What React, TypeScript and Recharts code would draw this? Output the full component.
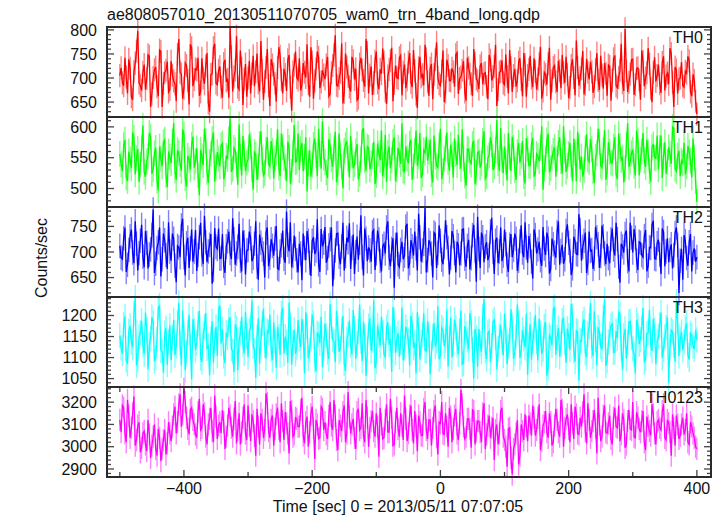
import React from "react";
import { LineChart, Line, XAxis, YAxis, ErrorBar } from "recharts";

// time grid (sec, 0 = 2013/05/11 07:07:05); "a" arrays at -500, -496, ...; "b" arrays at -498, -494, ...
const T_START = -500;
const T_STEP = 2;

const th0a = [
  705, 690, 742, 668, 720, 655, 731, 798, 684, 712,
  676, 748, 640, 701, 723, 662, 755, 689, 716, 671,
  735, 694, 652, 781, 708, 679, 726, 645, 763, 697,
  717, 663, 741, 688, 752, 630, 709, 771, 686, 724,
  659, 738, 697, 805, 672, 716, 681, 757, 644, 729,
  700, 668, 746, 713, 690, 777, 655, 722, 684, 739,
  708, 651, 764, 696, 719, 673, 748, 632, 727, 701,
  741, 686, 712, 770, 661, 733, 694, 755, 679, 716,
  698, 744, 667, 726, 789, 683, 712, 647, 751, 704,
  672, 736, 719, 658, 742, 695, 781, 668, 724, 690,
  755, 677, 709, 733, 646, 718, 763, 689, 701, 742,
  664, 728, 696, 752, 681, 715, 638, 744, 707, 769,
  692, 720, 656, 738, 701, 684, 757, 671, 726, 694,
  713, 749, 667, 702, 735, 653, 721, 688, 760, 698,
  677, 731, 709, 682, 748, 695, 724, 642, 712, 737,
  686, 703, 758, 671, 719, 694, 741, 662, 728, 705,
  746, 681, 714, 698, 765, 673, 707, 730, 655, 722,
  692, 736, 679, 711, 744, 658, 726, 701, 778, 684,
  719, 666, 740, 697, 713, 682, 752, 675, 706, 731,
  663, 724, 695, 747, 680, 716, 690, 802, 671, 708,
  739, 686, 721, 655, 734, 700, 762, 678, 712, 693,
  728, 669, 745, 704, 687, 751, 640, 717, 698, 733,
  681, 710, 736, 662, 695, 625,
];
const th0b = [
  721, 684, 702, 739, 661, 713, 756, 690, 674, 728,
  699, 745, 667, 717, 682, 758, 640, 711, 734, 676,
  706, 688, 749, 712, 657, 731, 695, 770, 683, 719,
  742, 671, 700, 725, 648, 707, 763, 689, 716, 681,
  730, 694, 659, 744, 702, 787, 676, 720, 698, 661,
  736, 709, 683, 751, 672, 715, 693, 760, 642, 727,
  689, 722, 745, 668, 707, 738, 681, 713, 755, 696,
  674, 731, 701, 688, 764, 657, 719, 743, 692, 706,
  727, 662, 711, 748, 685, 699, 772, 670, 723, 681,
  744, 697, 654, 729, 716, 682, 753, 706, 665, 735,
  690, 718, 761, 673, 704, 736, 652, 726, 699, 747,
  712, 679, 733, 691, 758, 666, 721, 702, 685, 740,
  663, 729, 707, 774, 688, 714, 650, 738, 695, 720,
  682, 753, 699, 716, 671, 742, 708, 663, 731, 694,
  725, 687, 711, 656, 737, 703, 769, 676, 714, 690,
  749, 668, 721, 705, 682, 733, 697, 752, 661, 718,
  700, 741, 676, 729, 657, 712, 686, 763, 694, 726,
  671, 715, 748, 690, 707, 680, 739, 664, 722, 701,
  756, 687, 712, 733, 669, 718, 695, 746, 678, 710,
  727, 653, 740, 684, 701, 771, 673, 715, 691, 738,
  665, 720, 696, 757, 683, 711, 729, 650, 743, 705,
  688, 732, 674, 710, 762, 691, 723, 668, 700, 684,
  714, 745, 671, 708, 652,
];

const th1a = [
  556, 528, 579, 512, 547, 591, 523, 564, 538, 602,
  519, 553, 584, 531, 566, 497, 548, 575, 522, 560,
  541, 606, 514, 557, 529, 588, 503, 546, 571, 534,
  565, 489, 552, 597, 527, 543, 580, 511, 559, 536,
  573, 524, 548, 614, 532, 562, 506, 551, 585, 528,
  547, 570, 498, 555, 536, 593, 521, 563, 540, 577,
  516, 558, 534, 589, 549, 512, 566, 527, 603, 544,
  530, 574, 551, 495, 562, 538, 581, 520, 556, 609,
  543, 517, 569, 535, 592, 526, 554, 500, 571, 548,
  585, 533, 560, 515, 547, 598, 529, 566, 541, 576,
  522, 557, 594, 538, 511, 568, 546, 583, 531, 555,
  606, 527, 549, 573, 514, 561, 537, 590, 523, 558,
  545, 579, 510, 552, 534, 597, 528, 565, 543, 571,
  518, 556, 587, 532, 549, 504, 563, 539, 578, 526,
  560, 541, 593, 520, 554, 572, 536, 611, 529, 547,
  568, 513, 551, 584, 530, 559, 542, 577, 508, 564,
  537, 582, 524, 553, 566, 498, 548, 589, 533, 561,
  519, 574, 545, 601, 527, 556, 539, 581, 512, 567,
  552, 530, 588, 543, 564, 509, 557, 576, 534, 595,
  526, 560, 541, 583, 515, 569, 550, 532, 606, 544,
  563, 521, 578, 547, 590, 535, 558, 511, 572, 549,
  531, 586, 553, 524, 567, 540, 598, 528, 561, 545,
  574, 536, 559, 518, 550, 478,
];
const th1b = [
  539, 571, 518, 560, 533, 582, 549, 511, 565, 527,
  544, 590, 524, 557, 513, 568, 536, 579, 502, 551,
  576, 529, 562, 540, 596, 517, 553, 531, 584, 545,
  522, 563, 538, 577, 509, 556, 591, 534, 548, 570,
  515, 553, 580, 527, 566, 539, 604, 521, 557, 542,
  588, 531, 559, 514, 572, 547, 525, 583, 536, 561,
  549, 596, 520, 567, 535, 576, 508, 558, 543, 589,
  564, 528, 583, 541, 519, 571, 554, 597, 532, 550,
  526, 580, 547, 565, 510, 589, 535, 561, 577, 518,
  555, 539, 572, 524, 593, 546, 568, 531, 553, 507,
  573, 546, 520, 587, 558, 533, 575, 512, 566, 540,
  529, 568, 541, 579, 536, 594, 552, 517, 562, 584,
  560, 523, 586, 537, 570, 515, 548, 591, 529, 555,
  581, 538, 552, 596, 521, 564, 545, 572, 507, 558,
  534, 577, 516, 549, 583, 530, 562, 541, 598, 525,
  543, 590, 528, 566, 514, 574, 553, 520, 582, 537,
  571, 519, 556, 544, 601, 533, 578, 526, 550, 567,
  548, 583, 524, 561, 537, 574, 512, 558, 592, 531,
  519, 565, 547, 580, 528, 551, 597, 537, 562, 514,
  575, 542, 568, 523, 589, 546, 510, 571, 535, 557,
  537, 594, 521, 560, 545, 579, 528, 567, 550, 586,
  566, 517, 575, 543, 556, 600, 532, 553, 520, 541,
  523, 569, 545, 581, 512,
];

const th2a = [
  712, 686, 748, 675, 731, 699, 760, 664, 722, 691,
  741, 668, 705, 783, 677, 719, 652, 736, 694, 758,
  683, 726, 641, 709, 752, 690, 717, 669, 744, 701,
  663, 729, 695, 771, 680, 714, 638, 747, 706, 687,
  735, 659, 721, 698, 766, 675, 710, 683, 742, 656,
  704, 727, 689, 760, 646, 718, 697, 738, 672, 725,
  693, 751, 666, 713, 687, 779, 701, 670, 732, 684,
  716, 645, 708, 741, 679, 722, 696, 764, 661, 711,
  749, 688, 725, 633, 703, 737, 676, 757, 692, 719,
  667, 734, 700, 685, 772, 654, 726, 709, 681, 743,
  697, 725, 662, 716, 748, 689, 706, 630, 738, 671,
  720, 693, 755, 678, 711, 740, 664, 729, 703, 786,
  684, 717, 650, 735, 698, 722, 676, 762, 708, 689,
  731, 660, 713, 697, 745, 671, 724, 688, 753, 642,
  706, 738, 680, 719, 693, 767, 657, 728, 701, 682,
  744, 675, 714, 690, 736, 663, 721, 699, 758, 679,
  712, 648, 733, 705, 684, 749, 694, 726, 667, 715,
  689, 760, 702, 677, 741, 718, 655, 730, 696, 774,
  683, 722, 659, 740, 704, 687, 729, 669, 752, 697,
  716, 678, 746, 693, 725, 640, 711, 735, 682, 757,
  699, 728, 665, 718, 690, 743, 673, 708, 761, 686,
  724, 657, 739, 701, 680, 715, 694, 748, 620, 706,
  733, 688, 719, 662, 707, 690,
];
const th2b = [
  689, 727, 661, 704, 744, 678, 716, 698, 753, 670,
  718, 695, 733, 659, 708, 748, 686, 723, 667, 701,
  736, 673, 712, 690, 765, 654, 728, 707, 681, 743,
  694, 757, 676, 719, 701, 735, 665, 710, 746, 688,
  673, 711, 740, 686, 725, 697, 755, 662, 719, 703,
  740, 682, 716, 671, 734, 705, 650, 748, 689, 712,
  726, 668, 701, 742, 679, 714, 758, 692, 706, 660,
  697, 736, 684, 722, 653, 729, 703, 676, 745, 718,
  679, 713, 748, 670, 736, 691, 711, 664, 728, 756,
  708, 657, 730, 718, 690, 746, 682, 703, 739, 665,
  742, 683, 711, 697, 760, 672, 727, 714, 676, 704,
  686, 750, 668, 723, 693, 707, 775, 681, 716, 660,
  723, 697, 738, 669, 752, 685, 710, 729, 656, 741,
  698, 720, 674, 744, 687, 712, 666, 733, 703, 769,
  669, 729, 711, 684, 740, 700, 722, 678, 748, 693,
  715, 661, 735, 704, 726, 683, 752, 690, 709, 731,
  681, 744, 697, 720, 673, 707, 738, 658, 726, 699,
  739, 675, 714, 686, 754, 702, 668, 721, 695, 743,
  710, 738, 679, 702, 667, 749, 715, 692, 731, 676,
  688, 725, 705, 757, 671, 716, 699, 742, 662, 728,
  745, 683, 720, 694, 731, 662, 709, 753, 687, 717,
  695, 746, 672, 727, 704, 668, 737, 714, 683, 646,
  721, 673, 735, 699, 681,
];

const th3a = [
  1152, 1110, 1198, 1085, 1176, 1124, 1243, 1095, 1160, 1131,
  1207, 1072, 1145, 1183, 1099, 1218, 1117, 1064, 1170, 1138,
  1093, 1189, 1127, 1230, 1081, 1156, 1112, 1201, 1048, 1164,
  1135, 1211, 1090, 1173, 1122, 1058, 1186, 1141, 1104, 1224,
  1167, 1087, 1148, 1196, 1115, 1179, 1070, 1157, 1132, 1209,
  1101, 1171, 1128, 1052, 1193, 1140, 1216, 1098, 1159, 1119,
  1184, 1076, 1150, 1205, 1109, 1137, 1231, 1083, 1166, 1125,
  1146, 1192, 1062, 1174, 1118, 1203, 1094, 1158, 1134, 1077,
  1181, 1113, 1227, 1143, 1089, 1169, 1121, 1199, 1068, 1155,
  1129, 1213, 1097, 1162, 1139, 1185, 1056, 1175, 1116, 1236,
  1091, 1153, 1197, 1107, 1172, 1130, 1066, 1188, 1144, 1102,
  1219, 1123, 1161, 1081, 1178, 1136, 1208, 1095, 1154, 1117,
  1187, 1060, 1149, 1126, 1222, 1103, 1165, 1141, 1079, 1194,
  1133, 1171, 1108, 1212, 1086, 1157, 1120, 1183, 1050, 1147,
  1168, 1114, 1239, 1096, 1163, 1128, 1190, 1072, 1151, 1137,
  1205, 1084, 1142, 1177, 1111, 1226, 1099, 1166, 1124, 1059,
  1179, 1137, 1201, 1093, 1158, 1120, 1185, 1075, 1147, 1214,
  1106, 1170, 1131, 1195, 1088, 1152, 1228, 1116, 1164, 1045,
  1139, 1191, 1100, 1174, 1127, 1210, 1082, 1160, 1119, 1238,
  1092, 1156, 1180, 1113, 1146, 1203, 1071, 1168, 1135, 1186,
  1121, 1062, 1176, 1143, 1218, 1097, 1159, 1132, 1192, 1085,
  1150, 1207, 1118, 1171, 1041, 1165, 1129, 1233, 1104, 1161,
  1137, 1182, 1095, 1153, 1120, 1142,
];
const th3b = [
  1123, 1178, 1094, 1162, 1137, 1205, 1081, 1149, 1187, 1108,
  1166, 1130, 1196, 1091, 1143, 1224, 1115, 1158, 1083, 1176,
  1147, 1105, 1183, 1135, 1212, 1070, 1160, 1126, 1191, 1118,
  1180, 1099, 1154, 1206, 1127, 1144, 1089, 1173, 1215, 1133,
  1104, 1159, 1188, 1121, 1065, 1170, 1142, 1197, 1110, 1151,
  1164, 1236, 1117, 1148, 1086, 1181, 1129, 1163, 1202, 1094,
  1139, 1172, 1106, 1219, 1150, 1088, 1177, 1135, 1109, 1189,
  1125, 1161, 1208, 1098, 1144, 1182, 1067, 1155, 1197, 1120,
  1153, 1096, 1174, 1138, 1211, 1114, 1166, 1086, 1143, 1188,
  1107, 1169, 1133, 1226, 1092, 1150, 1120, 1193, 1141, 1074,
  1176, 1128, 1160, 1102, 1184, 1145, 1220, 1111, 1158, 1136,
  1093, 1173, 1141, 1199, 1124, 1063, 1167, 1136, 1205, 1115,
  1154, 1110, 1182, 1139, 1096, 1171, 1127, 1214, 1146, 1100,
  1190, 1131, 1163, 1084, 1175, 1142, 1206, 1119, 1168, 1078,
  1134, 1198, 1116, 1159, 1089, 1185, 1147, 1122, 1177, 1105,
  1162, 1126, 1215, 1097, 1150, 1183, 1113, 1145, 1204, 1131,
  1095, 1166, 1138, 1192, 1109, 1174, 1057, 1153, 1129, 1221,
  1148, 1102, 1187, 1135, 1169, 1118, 1199, 1090, 1161, 1140,
  1181, 1111, 1156, 1229, 1103, 1144, 1172, 1126, 1195, 1080,
  1137, 1176, 1112, 1163, 1208, 1121, 1152, 1097, 1185, 1148,
  1107, 1190, 1132, 1171, 1088, 1157, 1213, 1116, 1165, 1139,
  1178, 1099, 1149, 1196, 1124, 1161, 1090, 1184, 1142, 1118,
  1170, 1106, 1158, 1128, 1166,
];

const th0123a = [
  3120, 3185, 3060, 3210, 3040, 3150, 3005, 3095, 2975, 3060,
  3010, 3120, 2950, 3045, 2990, 3080, 2935, 3030, 2965, 3110,
  3025, 3145, 3060, 3190, 3090, 3260, 3130, 3055, 3175, 3100,
  3040, 3215, 3085, 3150, 3010, 3125, 3070, 3230, 3035, 3110,
  3165, 2990, 3095, 3140, 3045, 3205, 3075, 3010, 3130, 3060,
  3185, 3025, 3115, 2960, 3090, 3150, 3040, 3240, 3070, 3120,
  3005, 3145, 3080, 3195, 3030, 3105, 2970, 3160, 3055, 3125,
  3090, 3220, 3015, 3135, 3065, 3180, 2945, 3100, 3040, 3170,
  3110, 3035, 3200, 3075, 3140, 2985, 3095, 3155, 3020, 3245,
  3060, 3125, 2990, 3170, 3085, 3050, 3210, 3000, 3115, 3070,
  3150, 2955, 3100, 3040, 3190, 3065, 3130, 3010, 3175, 3045,
  3095, 3230, 3025, 3140, 3075, 3160, 2980, 3110, 3050, 3200,
  3035, 3120, 3085, 3185, 2965, 3105, 3060, 3150, 3000, 3135,
  3080, 3170, 3030, 3255, 3090, 3045, 3125, 2995, 3160, 3070,
  3115, 3020, 3195, 3055, 3140, 3085, 2940, 3100, 3060, 3175,
  3030, 2910, 3085, 2875, 3010, 3120, 2960, 3070, 3145, 3025,
  3105, 3185, 3050, 3130, 2985, 3095, 3160, 3040, 3110, 3020,
  3170, 3065, 3210, 3000, 3125, 3080, 3190, 3035, 3145, 3055,
  3090, 3235, 3015, 3120, 3070, 3165, 2970, 3100, 3045, 3185,
  3060, 3140, 3010, 3175, 3085, 3025, 3150, 2995, 3115, 3080,
  3200, 3040, 3130, 3065, 3160, 2985, 3095, 3050, 3145, 3010,
  3120, 3075, 3190, 3030, 3105, 2960, 3085, 3140, 3035, 3100,
  3055, 3150, 3010, 3090, 3040, 2990,
];
const th0123b = [
  3065, 3175, 3020, 3140, 3085, 3225, 3030, 3110, 2995, 3070,
  2980, 3055, 3005, 3100, 2960, 3040, 2990, 3075, 3015, 3060,
  3090, 3180, 3110, 3235, 3145, 3200, 3080, 3165, 3120, 3055,
  3155, 3075, 3190, 3045, 3100, 3175, 3020, 3135, 3095, 3060,
  3110, 3045, 3175, 3085, 3125, 3015, 3150, 3065, 3190, 3030,
  3095, 3145, 3050, 3170, 3010, 3120, 3075, 3195, 3040, 3140,
  3080, 3175, 3020, 3115, 3155, 3060, 3205, 3045, 3130, 3090,
  3165, 3050, 3110, 3000, 3145, 3085, 3120, 3035, 3180, 3075,
  3055, 3140, 3095, 3210, 3030, 3120, 3070, 3185, 3060, 3135,
  3100, 3040, 3155, 3075, 3195, 3020, 3130, 3085, 3160, 3045,
  3090, 3175, 3035, 3120, 3065, 3215, 3005, 3110, 3080, 3150,
  3030, 3125, 3060, 3185, 3015, 3095, 3140, 3050, 3170, 3075,
  3120, 3005, 3160, 3045, 3110, 3200, 3055, 3090, 3175, 3020,
  3140, 3060, 3105, 3190, 3035, 3125, 3080, 3165, 3010, 3115,
  3065, 3150, 2990, 3095, 3040, 3130, 3075, 3010, 3160, 3045,
  3000, 3080, 2950, 2990, 3060, 2920, 3100, 3030, 3090, 3140,
  3050, 3130, 3075, 3190, 3025, 3110, 3065, 3150, 3005, 3095,
  3120, 3045, 3165, 3085, 3145, 3020, 3105, 3180, 3060, 3130,
  3155, 3070, 3195, 3040, 3115, 3085, 3220, 3025, 3140, 3065,
  3105, 3035, 3130, 3090, 3185, 3055, 3120, 3010, 3165, 3075,
  3045, 3155, 3080, 3115, 3020, 3135, 3070, 3190, 3060, 3110,
  3085, 3160, 3040, 3120, 3065, 3145, 3005, 3100, 3050, 3130,
  3075, 3020, 3110, 3060, 3000,
];

// 1-sigma error per band (counts/sec)
const th0Err = 24;
const th1Err = 21;
const th2Err = 24;
const th3Err = 30;
const th0123Err = 50;

const xTicks = [-500, -400, -300, -200, -100, 0, 100, 200, 300, 400];
const xLabels = [-400, -200, 0, 200, 400];

const W = 722;
const H = 516;
const PLOT_LEFT = 107;
const PLOT_RIGHT = 711;
const PLOT_TOP = 27;
const PANEL_H = 90;
const PAD = 12;
const X_AXIS_H = 34;
const X_DOMAIN: [number, number] = [-520, 422];
const FONT = "'Liberation Sans', Arial, Helvetica, sans-serif";
const TICK = "#444";
const FRAME = "#2a2a2a";

const range = (lo: number, hi: number, step: number) => {
  const out: number[] = [];
  for (let v = lo; v <= hi; v += step) out.push(v);
  return out;
};

// interleave the two sample sets into one time-ordered table
const pick = (a: number[], b: number[], i: number) => (i % 2 === 0 ? a[i / 2] : b[(i - 1) / 2]);
const nRows = th0a.length + th0b.length;
const rows = Array.from({ length: nRows }, (_, i) => ({
  t: T_START + i * T_STEP,
  th0: pick(th0a, th0b, i),
  th0e: th0Err,
  th1: pick(th1a, th1b, i),
  th1e: th1Err,
  th2: pick(th2a, th2b, i),
  th2e: th2Err,
  th3: pick(th3a, th3b, i),
  th3e: th3Err,
  th0123: pick(th0123a, th0123b, i),
  th0123e: th0123Err,
}));

type PanelDef = {
  key: string;
  label: string;
  color: string;
  light: string;
  domain: [number, number];
  ticks: number[];
  labels: number[];
};

const panels: PanelDef[] = [
  { key: "th0", label: "TH0", color: "#ff0000", light: "#ff8080", domain: [619, 806], ticks: range(620, 800, 10), labels: [650, 700, 750, 800] },
  { key: "th1", label: "TH1", color: "#00ff00", light: "#80ff80", domain: [470, 616], ticks: range(470, 610, 10), labels: [500, 550, 600] },
  { key: "th2", label: "TH2", color: "#0000ff", light: "#8080ff", domain: [612, 788], ticks: range(620, 780, 10), labels: [650, 700, 750] },
  { key: "th3", label: "TH3", color: "#00ffff", light: "#80ffff", domain: [1030, 1244], ticks: range(1030, 1240, 10), labels: [1050, 1100, 1150, 1200] },
  { key: "th0123", label: "TH0123", color: "#ff00ff", light: "#ff80ff", domain: [2864, 3268], ticks: range(2880, 3260, 20), labels: [2900, 3000, 3100, 3200] },
];

const fmt = (v: number) => (v < 0 ? "\u2212" + Math.abs(v) : String(v));

function YTick(props: any) {
  const { y, payload, labels } = props;
  const v = payload.value;
  const major = labels.includes(v);
  const len = major ? 7 : 4;
  return (
    <g>
      <line x1={PLOT_LEFT} x2={PLOT_LEFT + len} y1={y} y2={y} stroke={TICK} strokeWidth={1.3} />
      <line x1={PLOT_RIGHT - len} x2={PLOT_RIGHT} y1={y} y2={y} stroke={TICK} strokeWidth={1.3} />
      {major && (
        <text x={PLOT_LEFT - 10} y={y} dy="0.36em" textAnchor="end" fontSize={16} fontFamily={FONT} fill="#111">
          {v}
        </text>
      )}
    </g>
  );
}

function XTick(props: any) {
  const { x, y, payload, showLabel } = props;
  const v = payload.value;
  const major = v % 200 === 0;
  const len = major ? 7 : 5;
  return (
    <g>
      <line x1={x} x2={x} y1={y} y2={y - len} stroke={TICK} strokeWidth={1.3} />
      <line x1={x} x2={x} y1={y - PANEL_H} y2={y - PANEL_H + len} stroke={TICK} strokeWidth={1.3} />
      {showLabel && xLabels.includes(v) && (
        <text x={x} y={y + 17} textAnchor="middle" fontSize={16} fontFamily={FONT} fill="#111">
          {fmt(v)}
        </text>
      )}
    </g>
  );
}

function Panel({ p, index }: { p: PanelDef; index: number }) {
  const last = index === panels.length - 1;
  const top = PLOT_TOP + index * PANEL_H;
  const height = PAD + PANEL_H + (last ? X_AXIS_H : PAD);
  return (
    <div style={{ position: "absolute", left: 0, top: top - PAD, width: W, height }}>
      <LineChart
        width={W}
        height={height}
        data={rows}
        margin={{ top: PAD, right: W - PLOT_RIGHT, bottom: last ? 0 : PAD, left: 0 }}
      >
        <XAxis
          dataKey="t"
          type="number"
          domain={X_DOMAIN}
          ticks={xTicks}
          interval={0}
          allowDataOverflow
          height={last ? X_AXIS_H : 0}
          axisLine={false}
          tickLine={false}
          tickSize={0}
          tickMargin={0}
          tick={(tp: any) => <XTick {...tp} showLabel={last} />}
        />
        <YAxis
          type="number"
          domain={p.domain}
          ticks={p.ticks}
          interval={0}
          allowDataOverflow
          width={PLOT_LEFT}
          axisLine={false}
          tickLine={false}
          tickSize={0}
          tickMargin={0}
          tick={(tp: any) => <YTick {...tp} labels={p.labels} />}
        />
        <Line dataKey={p.key} type="linear" stroke="none" dot={false} isAnimationActive={false}>
          <ErrorBar dataKey={p.key + "e"} width={0} stroke={p.light} strokeWidth={1.4} isAnimationActive={false} />
        </Line>
        <Line dataKey={p.key} type="linear" stroke={p.color} strokeWidth={1.3} dot={false} isAnimationActive={false} />
      </LineChart>
    </div>
  );
}

export default function App() {
  const bottom = PLOT_TOP + panels.length * PANEL_H;
  return (
    <div style={{ position: "absolute", left: 0, top: 0, width: W, height: H, background: "#fff", fontFamily: FONT }}>
      {panels.map((p, i) => (
        <Panel key={p.key} p={p} index={i} />
      ))}
      <svg width={W} height={H} style={{ position: "absolute", left: 0, top: 0, pointerEvents: "none" }}>
        <rect x={PLOT_LEFT} y={PLOT_TOP} width={PLOT_RIGHT - PLOT_LEFT} height={bottom - PLOT_TOP} fill="none" stroke={FRAME} strokeWidth={2} />
        {panels.slice(1).map((p, i) => (
          <line key={p.key} x1={PLOT_LEFT} x2={PLOT_RIGHT} y1={PLOT_TOP + (i + 1) * PANEL_H} y2={PLOT_TOP + (i + 1) * PANEL_H} stroke={FRAME} strokeWidth={2} />
        ))}
        {panels.map((p, i) => (
          <text key={p.key} x={703} y={PLOT_TOP + i * PANEL_H + 16} textAnchor="end" fontSize={16} fontFamily={FONT} fill="#111">
            {p.label}
          </text>
        ))}
        <text x={PLOT_LEFT} y={20} fontSize={16} fontFamily={FONT} fill="#111">
          ae808057010_20130511070705_wam0_trn_4band_long.qdp
        </text>
        <text x={47} y={258} transform="rotate(-90 47 258)" textAnchor="middle" fontSize={16} fontFamily={FONT} fill="#111">
          Counts/sec
        </text>
        <text x={398} y={512} textAnchor="middle" fontSize={16} fontFamily={FONT} fill="#111">
          Time [sec] 0 = 2013/05/11 07:07:05
        </text>
      </svg>
    </div>
  );
}
